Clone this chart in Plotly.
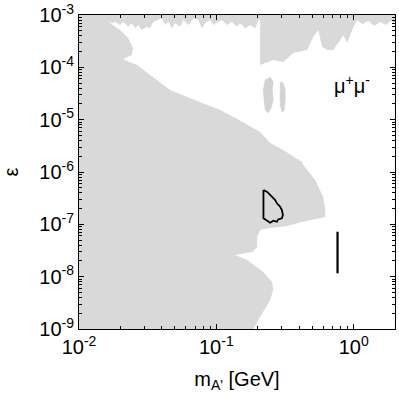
import numpy as np
import plotly.graph_objects as go

# ── Data ─────────────────────────────────────────────────────────────────────

# axis limits
m_lim = [0.01, 2.0]
eps_lim = [1e-9, 1e-3]

# upper excluded band (bottom edge, left -> right)
strip_m = [0.0159, 0.0173, 0.0183, 0.0199, 0.0210, 0.0229, 0.0242, 0.0256, 0.0271, 0.0286,
           0.0311, 0.0329, 0.0348, 0.0368, 0.0401, 0.0424, 0.0448, 0.0474, 0.0501, 0.0545,
           0.0576, 0.0626, 0.0681, 0.0740, 0.0784, 0.0829, 0.0901, 0.0952, 0.1036, 0.1097,
           0.1193, 0.1297, 0.1411, 0.1491, 0.1622, 0.1763, 0.1918, 0.2027,
           0.2085, 0.2085, 0.2594, 0.3069, 0.3629, 0.4589, 0.5076, 0.5521, 0.5903, 0.6421,
           0.7101, 0.7984, 0.8396, 0.8983, 0.9934, 1.062,
           1.155, 1.278, 1.413, 1.563, 1.728, 1.849, 2.0]
strip_eps = [8.02e-4, 6.94e-4, 7.44e-4, 6.44e-4, 7.44e-4, 5.98e-4, 6.94e-4, 5.57e-4, 6.44e-4, 5.17e-4,
             5.98e-4, 5.57e-4, 7.44e-4, 8.02e-4, 8.65e-4, 6.44e-4, 7.44e-4, 5.57e-4, 6.94e-4, 5.98e-4,
             8.02e-4, 6.44e-4, 8.65e-4, 8.02e-4, 5.57e-4, 6.94e-4, 8.02e-4, 6.44e-4, 7.44e-4, 8.02e-4,
             6.44e-4, 7.44e-4, 5.98e-4, 6.94e-4, 5.57e-4, 6.44e-4, 5.57e-4, 8.02e-4,
             8.02e-4, 1.11e-4, 1.38e-4, 1.26e-4, 1.88e-4, 2.14e-4, 3.80e-4, 5.17e-4, 2.45e-4, 2.14e-4,
             2.14e-4, 3.33e-4, 4.15e-4, 2.92e-4, 5.90e-4, 8.02e-4,
             6.73e-4, 7.68e-4, 6.16e-4, 7.35e-4, 6.44e-4, 7.68e-4, 7.03e-4]

# main excluded region (right edge, top -> bottom)
edge_m = [0.01600, 0.01682, 0.01990, 0.02276, 0.02476, 0.02422, 0.02093, 0.02647, 0.03462, 0.04607,
          0.06128, 0.08014, 0.1066, 0.1418, 0.2085, 0.2466, 0.3069, 0.4220, 0.4292, 0.5249,
          0.5521, 0.6003, 0.6209, 0.6209, 0.5709, 0.4220, 0.3281, 0.2466, 0.2085, 0.1983,
          0.1983, 0.1823, 0.1371, 0.1677, 0.2193, 0.2551, 0.2594, 0.2466, 0.2085, 0.1854]
edge_eps = [8.02e-4, 7.03e-4, 5.17e-4, 3.63e-4, 2.34e-4, 1.72e-4, 1.42e-4, 1.11e-4, 6.53e-5, 3.69e-5,
            2.71e-5, 2.08e-5, 1.53e-5, 1.03e-5, 5.81e-6, 3.58e-6, 2.63e-6, 1.55e-6, 1.36e-6, 7.03e-7,
            5.17e-7, 3.33e-7, 1.88e-7, 1.38e-7, 1.32e-7, 1.11e-7, 9.29e-8, 8.51e-8, 7.79e-8, 5.72e-8,
            3.69e-8, 2.96e-8, 2.59e-8, 2.08e-8, 1.23e-8, 7.91e-9, 5.56e-9, 3.58e-9, 1.69e-9, 1e-9]

# small isolated islands
isl1_m = [0.2268, 0.2466, 0.2594, 0.2551, 0.2594, 0.2507, 0.2385, 0.2268, 0.2230, 0.2193, 0.2268]
isl1_eps = [5.72e-5, 6.53e-5, 5.24e-5, 3.69e-5, 2.37e-5, 1.67e-5, 1.34e-5, 1.53e-5, 2.37e-5, 3.69e-5, 5.72e-5]
isl2_m = [0.2917, 0.3069, 0.3173, 0.3173, 0.3120, 0.3017, 0.2917, 0.2917, 0.2917]
isl2_eps = [5.24e-5, 5.02e-5, 3.69e-5, 2.37e-5, 1.53e-5, 1.40e-5, 1.91e-5, 2.96e-5, 5.24e-5]

# black contours
cont1_m = [0.2204, 0.2346, 0.2537, 0.2683, 0.2761, 0.2917, 0.3002, 0.3053, 0.3002, 0.2821,
           0.2761, 0.2607, 0.2466, 0.2334, 0.2204, 0.2204]
cont1_eps = [4.53e-7, 4.15e-7, 3.37e-7, 2.91e-7, 2.52e-7, 2.17e-7, 1.88e-7, 1.51e-7, 1.30e-7, 1.24e-7,
             1.12e-7, 1.17e-7, 1.07e-7, 1.17e-7, 1.30e-7, 4.53e-7]
cont2_m = [0.763, 0.763]
cont2_eps = [7.23e-8, 1.16e-8]

x_tickvals = [0.01, 0.1, 1.0]
x_ticktext = ["10<sup>-2</sup>", "10<sup>-1</sup>", "10<sup>0</sup>"]
y_tickvals = [1e-9, 1e-8, 1e-7, 1e-6, 1e-5, 1e-4, 1e-3]
y_ticktext = ["10<sup>-9</sup>", "10<sup>-8</sup>", "10<sup>-7</sup>", "10<sup>-6</sup>",
              "10<sup>-5</sup>", "10<sup>-4</sup>", "10<sup>-3</sup>"]

GRAY = "#d9d9d9"
FONT = "Liberation Sans, Arial, sans-serif"

# ── Figure ───────────────────────────────────────────────────────────────────

poly_m = [m_lim[0], m_lim[1]] + strip_m[::-1] + edge_m + [m_lim[0]]
poly_eps = [eps_lim[1], eps_lim[1]] + strip_eps[::-1] + edge_eps + [eps_lim[0]]

fig = go.Figure()
fig.add_trace(go.Scatter(x=poly_m, y=poly_eps, fill="toself", fillcolor=GRAY,
                         mode="lines", line=dict(width=0), hoverinfo="skip"))
for xm, ye in [(isl1_m, isl1_eps), (isl2_m, isl2_eps)]:
    fig.add_trace(go.Scatter(x=xm, y=ye, fill="toself", fillcolor="#d3d3d3",
                             mode="lines", line=dict(width=0.5, color="#cccccc"),
                             hoverinfo="skip"))
fig.add_trace(go.Scatter(x=cont1_m, y=cont1_eps, mode="lines",
                         line=dict(color="black", width=1.8)))
fig.add_trace(go.Scatter(x=cont2_m, y=cont2_eps, mode="lines",
                         line=dict(color="black", width=2.2)))

fig.add_annotation(x=np.log10(0.98), y=np.log10(4.8e-5), xref="x", yref="y",
                   text="μ<sup>+</sup>μ<sup>-</sup>", showarrow=False,
                   font=dict(size=20, color="black", family=FONT))

axis_common = dict(
    showline=True, linecolor="black", linewidth=1, mirror="ticks", automargin=False,
    ticks="inside", ticklen=5, tickcolor="black", showgrid=False, zeroline=False,
    minor=dict(ticks="inside", ticklen=3, tickcolor="black", dtick="D1", showgrid=False),
    tickfont=dict(size=20, color="black", family=FONT),
)

fig.update_xaxes(type="log", range=[np.log10(m_lim[0]), np.log10(m_lim[1])],
                 tickvals=x_tickvals, ticktext=x_ticktext,
                 title=dict(text="m<sub>A'</sub> [GeV]", font=dict(size=20, color="black", family=FONT)),
                 **axis_common)
fig.update_yaxes(type="log", range=[np.log10(eps_lim[0]), np.log10(eps_lim[1])],
                 tickvals=y_tickvals, ticktext=y_ticktext,
                 title=dict(text="ε", font=dict(size=20, color="black", family=FONT)),
                 **axis_common)

fig.update_layout(
    width=399, height=393,
    margin=dict(l=79, r=4, t=15, b=64, autoexpand=False),
    plot_bgcolor="white", paper_bgcolor="white",
    showlegend=False,
)

# drop the page's default body margin so the figure sits at the window corner
fig.write_html("out.html", config={"displayModeBar": False},
               post_script="document.body.style.margin='0';")
